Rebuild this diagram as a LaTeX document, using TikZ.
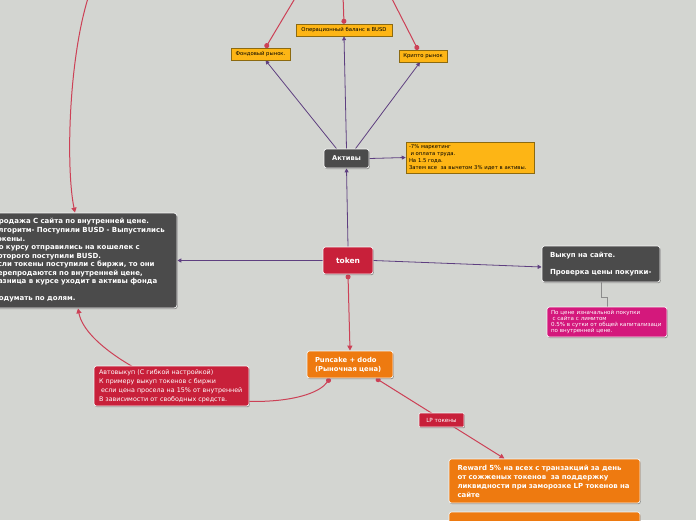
\documentclass[tikz,border=0pt]{standalone}
\usepackage{fontspec}
\setmainfont{DejaVu Sans}
\usetikzlibrary{arrows.meta,shadows}
\definecolor{bgc}{HTML}{D3D5D1}
\definecolor{darkc}{HTML}{4B4B4B}
\definecolor{redc}{HTML}{C8203A}
\definecolor{orangec}{HTML}{EE7A10}
\definecolor{yellowc}{HTML}{FDB515}
\definecolor{yellowbd}{HTML}{8C6A10}
\definecolor{magc}{HTML}{D4187C}
\definecolor{purplec}{HTML}{5E3F80}
\definecolor{rlinec}{HTML}{CC4156}
\definecolor{glinec}{HTML}{8C8C8C}
\pgfdeclarelayer{bg}
\pgfsetlayers{bg,main}
\tikzset{
 shad/.style={drop shadow={shadow xshift=0.8pt,shadow yshift=-1.2pt,opacity=0.3,fill=black}},
 boxbase/.style={shad, rounded corners=2.5pt, align=left, inner ysep=0pt, line width=0.7pt, draw=white!92!gray},
 darkbox/.style={boxbase, fill=darkc, text=white},
 redbox/.style={boxbase, fill=redc, text=white},
 orangebox/.style={boxbase, fill=orangec, text=white},
 magbox/.style={boxbase, fill=magc, text=white},
 yellowbox/.style={shad, fill=yellowc, draw=yellowbd, line width=0.5pt, align=left, inner ysep=0pt, text=black},
 pline/.style={draw=purplec, line width=0.8pt, arrows={-Triangle[length=4pt,width=4pt]}},
 rline/.style={draw=rlinec, line width=1pt},
 rarrow/.style={arrows={-Triangle[length=5pt,width=5pt]}},
 rdot/.style={arrows={Circle[length=5pt]-}},
 rdotarrow/.style={arrows={Circle[length=5pt]-Triangle[length=5pt,width=5pt]}},
 gline/.style={draw=glinec, line width=0.8pt},
}
\begin{document}
\begin{tikzpicture}[x=1pt,y=-1pt]
\begin{pgfonlayer}{bg}
\fill[bgc] (0,0) rectangle (696,520);
\end{pgfonlayer}
\useasboundingbox (0,0) rectangle (696,520);

\node[redbox, minimum width=50pt, minimum height=27pt, font=\bfseries\fontsize{7.5}{9}\selectfont, align=center] (token) at (348,260.5) {token};
\node[darkbox, minimum width=45pt, minimum height=19pt, font=\bfseries\fontsize{6.7}{8}\selectfont, align=center] (aktivy) at (346.5,158.5) {Активы};
\node[yellowbox, minimum height=31pt, text width=122pt, inner xsep=3pt, font=\fontsize{5.3}{6.8}\selectfont] (info) at (470,157.5) {-7\% маркетинг\\\hspace*{1.5pt}и оплата труда.\\На 1.5 года.\\Затем все\ \ за вычетом 3\% идет в активы.};
\node[yellowbox, minimum width=96pt, minimum height=12pt, font=\fontsize{5.3}{6}\selectfont, align=center] (oper) at (344,30) {Операционный баланс в BUSD};
\node[yellowbox, minimum width=59pt, minimum height=12pt, font=\fontsize{5.3}{6}\selectfont, align=center] (fond) at (260.5,54) {Фондовый рынок.};
\node[yellowbox, minimum width=48pt, minimum height=12pt, font=\fontsize{5.3}{6}\selectfont, align=center] (kripto) at (423,56) {Крипто рынок};

\node[darkbox, rounded corners=3pt, minimum height=95pt, text width=179pt, inner xsep=5pt, font=\bfseries\fontsize{7}{8.55}\selectfont] (left) at (82.5,260.5) {Продажа С сайта по внутренней цене.\\Алгоритм- Поступили BUSD - Выпустились\\токены.\\По курсу отправились на кошелек с\\которого поступили BUSD.\\Если токены поступили с биржи, то они\\перепродаются по внутренней цене,\\разница в курсе уходит в активы фонда\\\mbox{}\\Подумать по долям.};

\node[darkbox, minimum height=36pt, text width=102pt, inner xsep=8pt, font=\bfseries\fontsize{7}{8.5}\selectfont] (vykup) at (601,264) {Выкуп на сайте.\\\mbox{}\\Проверка цены покупки-};
\node[magbox, minimum height=30pt, text width=112pt, inner xsep=4pt, font=\fontsize{5.55}{6.3}\selectfont] (mag) at (607,322) {По цене изначальной покупки\\\hspace*{1.5pt}с сайта с лимитом\\0.5\% в сутки от общей капитализаци\\по внутренней цене.};
\node[orangebox, minimum height=27pt, text width=70pt, inner xsep=8pt, font=\bfseries\fontsize{6.8}{8.8}\selectfont] (pun) at (350,364.5) {Puncake + dodo\\(Рыночная цена)};
\node[redbox, minimum height=40pt, text width=145pt, inner xsep=5pt, font=\fontsize{6.35}{9}\selectfont] (auto) at (171.5,386) {Автовыкуп (С гибкой настройкой)\\К примеру выкуп токенов с биржи\\\hspace*{2pt}если цена просела на 15\% от внутренней\\В зависимости от свободных средств.};
\node[redbox, minimum width=45pt, minimum height=14pt, font=\fontsize{5.7}{7}\selectfont, align=center, rounded corners=1pt] (lp) at (441.5,420) {LP токены};
\node[orangebox, minimum height=44pt, text width=174pt, inner xsep=8.5pt, font=\bfseries\fontsize{6.95}{9}\selectfont] (reward) at (544.5,481) {Reward 5\% на всех с транзакций за день\\от сожженых токенов\ \ за поддержку\\ликвидности при заморозке LP токенов на\\сайте};
\node[orangebox, minimum height=30pt, minimum width=191pt] (bottom) at (544.5,527) {};

\coordinate (topA) at (89,-5);
\coordinate (topF) at (297,-5);
\coordinate (topO) at (343,-5);
\coordinate (topK) at (390,-5);
\coordinate (autoMid) at (190,392);

\begin{pgfonlayer}{bg}
\draw[pline] (token.north) -- (aktivy.south);
\draw[pline] (aktivy.north) -- (oper.south);
\draw[pline] ([xshift=-10pt]aktivy.north) -- ([xshift=5pt]fond.south);
\draw[pline] ([xshift=9pt]aktivy.north) -- ([xshift=-3pt]kripto.south);
\draw[pline] (aktivy.east) -- (info.west);
\draw[pline] (token.west) -- (left.east);
\draw[pline] (token.east) -- ([yshift=-3pt]vykup.west);
\draw[gline] (vykup.south) -- ++(0,15) -| (mag.north);
\draw[rline, rdotarrow] (token.south) -- (pun.north);
\draw[rline, rdotarrow] ([xshift=-20pt]pun.south) .. controls (312,403) and (240,408) .. (autoMid) .. controls (150,380) and (85,345) .. ([xshift=-4.5pt]left.south);
\draw[rline, rdotarrow] ([xshift=26pt]pun.south) -- ([xshift=-40pt]reward.north);
\draw[rline, rarrow] (topA) .. controls (68,60) and (66,170) .. ([xshift=-7.5pt]left.north);
\draw[rline, rdot] ([xshift=5pt]fond.north) -- (topF);
\draw[rline, rdot] (oper.north) -- (topO);
\draw[rline, rdot] ([xshift=-5pt]kripto.north) -- (topK);
\end{pgfonlayer}
\end{tikzpicture}
\end{document}
